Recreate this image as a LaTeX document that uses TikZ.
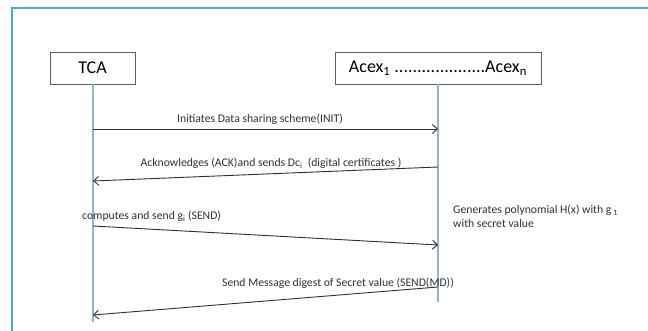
\documentclass[tikz,border=0pt]{standalone}
\usepackage{fontspec}
\setmainfont{Carlito}
\usetikzlibrary{arrows.meta}
\definecolor{framecyan}{HTML}{4BACC6}
\definecolor{lifeblue}{HTML}{95B3D7}
\definecolor{boxgray}{HTML}{5F5F5F}
\definecolor{msgline}{HTML}{303030}
\definecolor{txtgray}{HTML}{303030}
\tikzset{
  actor/.style={draw=boxgray, line width=0.9pt, fill=white, minimum height=32pt, inner sep=0pt, font=\fontsize{18}{21}\selectfont, text=black},
  lifeline/.style={draw=lifeblue, line width=1.2pt},
  msg/.style={draw=msgline, line width=0.9pt, -{Straight Barb[length=5pt,width=9pt]}},
  msglabel/.style={font=\fontsize{11.7}{14}\selectfont, text=txtgray, inner sep=0pt},
}
\begin{document}
\begin{tikzpicture}[x=1pt,y=-1pt]
\useasboundingbox (0,0) rectangle (648,331);
% outer frame (top and left edges only)
\draw[framecyan, line width=2pt] (12,331) -- (12,8) -- (648,8);

% participants
\node[actor, minimum width=85pt] (tca) at (92.5,68) {TCA};
\node[actor, minimum width=206pt] (acex) at (438,68) {Acex\textsubscript{1} ....................Acex\textsubscript{n}};

% lifeline ends
\coordinate (tcaend) at (93,322);
\coordinate (acexend) at (438,302);
\draw[lifeline] (tca.south -| tcaend) -- (tcaend);
\draw[lifeline] (acex.south -| acexend) -- (acexend);

% message end points on the lifelines
\coordinate (m1s) at (93,129);  \coordinate (m1e) at (438,129);
\coordinate (m2s) at (438,167); \coordinate (m2e) at (93,181);
\coordinate (m3s) at (93,226);  \coordinate (m3e) at (438,245);
\coordinate (m4s) at (438,287); \coordinate (m4e) at (93,315);

% messages
\draw[msg] (m1s) -- (m1e);
\draw[msg] (m2s) -- (m2e);
\draw[msg] (m3s) -- (m3e);
\draw[msg] (m4s) -- (m4e);

% message labels
\node[msglabel] (l1) at (260,119) {Initiates Data sharing scheme(INIT)};
\node[msglabel] (l2) at (271,163) {Acknowledges (ACK)and sends Dc\textsubscript{i}\ \ (digital certificates )};
\node[msglabel, anchor=west] (l3) at (82,216) {computes and send g\textsubscript{i}\ (SEND)};
\node[msglabel] (l4) at (338,283) {Send Message digest of Secret value (SEND(MD))};

% note beside the receiver lifeline
\node[msglabel, anchor=west, align=left] (note) at (453,216) {Generates polynomial H(x) with g\,\textsubscript{1}\\with secret value};
\end{tikzpicture}
\end{document}
